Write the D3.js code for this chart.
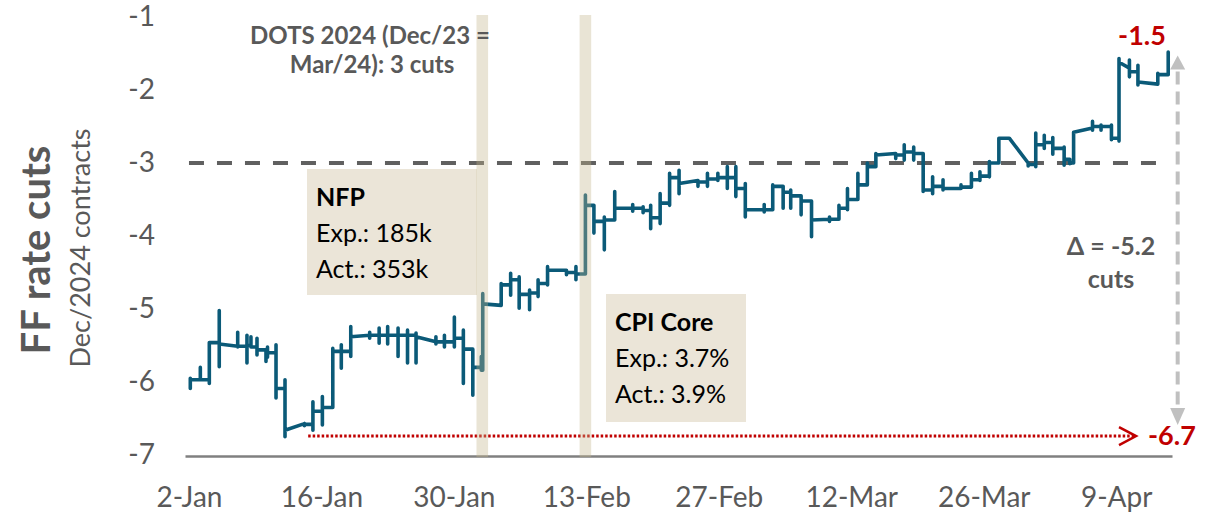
<!DOCTYPE html>
<html>
<head>
<meta charset="utf-8">
<script src="https://cdn.jsdelivr.net/npm/d3@7"></script>
<style>
  body { margin: 0; background: #fff; }
  svg { display: block; font-family: Lato, "Open Sans", sans-serif; }
</style>
</head>
<body>
<svg id="chart" width="1217" height="516"></svg>
<script>
// day offsets are counted from 2-Jan-2024
const startDate = "2024-01-02";
const xTickDates = ["2024-01-02", "2024-01-16", "2024-01-30", "2024-02-13",
                    "2024-02-27", "2024-03-12", "2024-03-26", "2024-04-09"];
const yTicks = [-1, -2, -3, -4, -5, -6, -7];

// intraday moves: [day, arrive level, low, high, close]
const moves = [
  [0.14, -5.97, -6.09, -5.95, -5.97],
  [1.2, -5.97, -5.97, -5.80, -5.97],
  [2.15, -5.97, -6.02, -5.46, -5.46],
  [3.2, -5.46, -5.79, -5.02, -5.48],
  [5.15, -5.51, -5.52, -5.32, -5.51],
  [6.13, -5.51, -5.74, -5.36, -5.50],
  [6.55, -5.50, -5.52, -5.38, -5.52],
  [7.19, -5.52, -5.63, -5.40, -5.56],
  [8.14, -5.56, -5.72, -5.56, -5.60],
  [8.3, -5.60, -5.66, -5.52, -5.60],
  [9.2, -5.60, -6.22, -5.49, -6.09],
  [10.15, -6.09, -6.75, -5.97, -6.66],
  [12.2, -6.57, -6.60, -6.57, -6.58],
  [13.1, -6.58, -6.66, -6.27, -6.40],
  [14.1, -6.40, -6.59, -6.20, -6.35],
  [15.2, -6.35, -6.35, -5.54, -5.58],
  [16.1, -5.58, -5.81, -5.49, -5.58],
  [17.1, -5.58, -5.65, -5.24, -5.38],
  [19.1, -5.36, -5.40, -5.32, -5.36],
  [20.1, -5.36, -5.47, -5.26, -5.36],
  [21.0, -5.36, -5.48, -5.24, -5.36],
  [22.1, -5.36, -5.65, -5.26, -5.36],
  [23.1, -5.36, -5.74, -5.29, -5.36],
  [24.0, -5.36, -5.74, -5.33, -5.38],
  [26.1, -5.45, -5.48, -5.38, -5.45],
  [27.0, -5.45, -5.52, -5.36, -5.45],
  [28.05, -5.45, -5.52, -5.11, -5.40],
  [29.0, -5.40, -6.02, -5.29, -5.55],
  [30.0, -5.55, -6.18, -5.61, -5.80],
  [30.9, -5.80, -5.84, -5.65, -5.84],
  [31.05, -5.84, -5.84, -4.79, -4.93],
  [33.0, -4.95, -4.95, -4.65, -4.67],
  [34.0, -4.67, -4.81, -4.51, -4.60],
  [34.9, -4.60, -4.99, -4.56, -4.80],
  [36.0, -4.80, -5.01, -4.74, -4.78],
  [36.9, -4.78, -4.83, -4.60, -4.65],
  [37.9, -4.65, -4.67, -4.42, -4.47],
  [39.9, -4.47, -4.53, -4.47, -4.50],
  [40.9, -4.50, -4.60, -4.42, -4.52],
  [41.9, -4.52, -4.52, -3.44, -3.58],
  [42.8, -3.58, -3.96, -3.58, -3.80],
  [43.9, -3.80, -4.19, -3.74, -3.78],
  [45.0, -3.78, -3.78, -3.39, -3.62],
  [46.9, -3.62, -3.66, -3.57, -3.62],
  [48.0, -3.62, -3.68, -3.60, -3.65],
  [48.8, -3.65, -3.90, -3.58, -3.75],
  [49.8, -3.75, -3.83, -3.42, -3.55],
  [50.8, -3.55, -3.58, -3.14, -3.20],
  [51.8, -3.20, -3.42, -3.10, -3.28],
  [53.8, -3.24, -3.32, -3.24, -3.26],
  [54.8, -3.26, -3.32, -3.14, -3.22],
  [55.9, -3.22, -3.24, -3.14, -3.20],
  [56.9, -3.20, -3.35, -3.05, -3.20],
  [57.8, -3.20, -3.46, -3.05, -3.35],
  [58.8, -3.35, -3.74, -3.28, -3.64],
  [60.8, -3.64, -3.67, -3.57, -3.64],
  [61.7, -3.64, -3.62, -3.30, -3.32],
  [62.8, -3.32, -3.62, -3.32, -3.40],
  [63.6, -3.40, -3.62, -3.37, -3.45],
  [64.7, -3.45, -3.71, -3.46, -3.52],
  [65.8, -3.52, -4.01, -3.64, -3.78],
  [67.7, -3.77, -3.80, -3.74, -3.77],
  [68.7, -3.77, -3.77, -3.58, -3.62],
  [69.6, -3.62, -3.64, -3.35, -3.50],
  [70.7, -3.50, -3.39, -3.14, -3.30],
  [71.7, -3.30, -3.23, -3.00, -3.05],
  [72.6, -3.05, -3.05, -2.87, -2.89],
  [74.7, -2.87, -2.94, -2.87, -2.89],
  [75.6, -2.89, -2.96, -2.75, -2.85],
  [76.6, -2.85, -2.96, -2.78, -2.87],
  [77.6, -2.87, -3.39, -2.89, -3.37],
  [78.6, -3.37, -3.42, -3.19, -3.32],
  [79.7, -3.32, -3.37, -3.23, -3.35],
  [81.6, -3.35, -3.35, -3.30, -3.33],
  [82.7, -3.33, -3.33, -3.14, -3.23],
  [83.6, -3.23, -3.24, -3.12, -3.18],
  [84.6, -3.18, -3.19, -2.98, -3.00],
  [85.6, -3.00, -3.00, -2.66, -2.66],
  [86.7, -2.66, -2.66, -2.66, -2.66],
  [88.7, -3.00, -3.04, -3.00, -3.02],
  [89.5, -3.02, -3.05, -2.59, -2.75],
  [90.4, -2.75, -2.80, -2.62, -2.72],
  [91.3, -2.72, -2.88, -2.65, -2.80],
  [92.5, -2.80, -3.03, -2.78, -2.95],
  [93.1, -2.95, -3.01, -2.95, -3.00],
  [93.5, -3.00, -3.00, -2.58, -2.58],
  [95.5, -2.52, -2.55, -2.43, -2.50],
  [96.4, -2.50, -2.55, -2.48, -2.50],
  [97.5, -2.50, -2.68, -2.48, -2.66],
  [98.3, -2.66, -2.70, -1.57, -1.62],
  [99.4, -1.70, -1.82, -1.59, -1.75],
  [100.3, -1.75, -1.93, -1.66, -1.89],
  [102.4, -1.92, -1.92, -1.77, -1.79],
  [103.5, -1.79, -1.79, -1.48, -1.48]
];

// event bands (NFP on 2-Feb, CPI on 13-Feb)
const eventDays = [31.0, 41.9];
const dotsLevel = -3;
const lowLevel = -6.7, lastLevel = -1.5;

const svg = d3.select("#chart");
const t0 = Date.parse(startDate + "T00:00:00Z");
const toDate = d => new Date(t0 + d * 864e5);

const x = d3.scaleUtc()
  .domain([toDate(-0.42), toDate(103.9)])
  .range([185, 1172]);
const y = d3.scaleLinear()
  .domain([-7, -1])
  .range([455, 17]);

const grey = "#595959";

// beige text boxes
svg.append("rect").attr("x", 307).attr("y", 169).attr("width", 170).attr("height", 126).attr("fill", "#ebe5d8");
svg.append("rect").attr("x", 606).attr("y", 294).attr("width", 140).attr("height", 128).attr("fill", "#ebe5d8");

// y axis labels
const yAxis = svg.append("g")
  .attr("transform", "translate(160,0)")
  .call(d3.axisLeft(y).tickValues(yTicks).tickSize(0).tickPadding(5).tickFormat(d => String(d)));
yAxis.select(".domain").remove();
yAxis.selectAll("text").attr("fill", grey).style("font-size", "28px").style("font-family", "Lato");

// x axis
const xAxis = svg.append("g")
  .attr("transform", `translate(0,${y(-7) + 1})`)
  .call(d3.axisBottom(x)
    .tickValues(xTickDates.map(s => new Date(s + "T00:00:00Z")))
    .tickSize(0).tickPadding(31)
    .tickFormat(d3.utcFormat("%-d-%b")));
xAxis.select(".domain").attr("stroke", "#808080").attr("stroke-width", 2.5);
xAxis.selectAll("text").attr("fill", grey).style("font-size", "28px").style("font-family", "Lato");

// DOTS reference line
svg.append("line")
  .attr("x1", x(toDate(0))).attr("x2", x(toDate(102.4)))
  .attr("y1", y(dotsLevel)).attr("y2", y(dotsLevel))
  .attr("stroke", "#606060").attr("stroke-width", 4)
  .attr("stroke-dasharray", "15,13");

// red dotted line to the low
svg.append("line")
  .attr("x1", x(toDate(12.6))).attr("x2", x(toDate(100.0)))
  .attr("y1", y(lowLevel) + 3).attr("y2", y(lowLevel) + 3)
  .attr("stroke", "#c00000").attr("stroke-width", 3)
  .attr("stroke-dasharray", "2.5,2");
svg.append("path")
  .attr("d", `M${x(toDate(98.3))},${y(lowLevel) - 6} L${x(toDate(100.1))},${y(lowLevel) + 3} L${x(toDate(98.3))},${y(lowLevel) + 12}`)
  .attr("fill", "none").attr("stroke", "#c00000").attr("stroke-width", 2.5);

// data path
const pts = [];
moves.forEach(m => {
  const dt = toDate(m[0]);
  pts.push([dt, m[1]], [dt, m[2]], [dt, m[3]], [dt, m[4]]);
});
const line = d3.line().x(p => x(p[0])).y(p => y(p[1]));
svg.append("path")
  .datum(pts)
  .attr("d", line)
  .attr("fill", "none")
  .attr("stroke", "#0b5a78")
  .attr("stroke-width", 3.6)
  .attr("stroke-linejoin", "round")
  .attr("stroke-linecap", "round");

// event bands drawn over the line
svg.selectAll(".band")
  .data(eventDays)
  .join("rect")
  .attr("class", "band")
  .attr("x", d => x(toDate(d)) - 5.8)
  .attr("width", 11.6)
  .attr("y", 15)
  .attr("height", y(-7) + 2 - 15)
  .attr("fill", "#c2b48a")
  .attr("opacity", 0.36);

// grey double arrow from low to last
const ax = x(toDate(104.5));
svg.append("line")
  .attr("x1", ax).attr("x2", ax)
  .attr("y1", y(lastLevel) + 18).attr("y2", y(lowLevel) - 14)
  .attr("stroke", "#c0c0c0").attr("stroke-width", 4)
  .attr("stroke-dasharray", "13,7");
svg.append("path")
  .attr("d", `M${ax},${y(lastLevel) + 2} L${ax - 7.5},${y(lastLevel) + 16} L${ax + 7.5},${y(lastLevel) + 16} Z`)
  .attr("fill", "#c0c0c0");
svg.append("path")
  .attr("d", `M${ax},${y(lowLevel) - 8} L${ax - 7.5},${y(lowLevel) - 25} L${ax + 7.5},${y(lowLevel) - 25} Z`)
  .attr("fill", "#c0c0c0");

// annotations
function txt(str, px, py, opts) {
  return svg.append("text").attr("x", px).attr("y", py).text(str)
    .style("font-size", (opts.size || 24) + "px")
    .style("font-weight", opts.bold ? "bold" : "normal")
    .attr("fill", opts.fill || "#000")
    .attr("text-anchor", opts.anchor || "start");
}
txt("DOTS 2024 (Dec/23 =", 370, 44, {size: 24, bold: true, fill: grey, anchor: "middle"});
txt("Mar/24): 3 cuts", 372, 73, {size: 24, bold: true, fill: grey, anchor: "middle"});

txt("NFP", 316, 206, {size: 25, bold: true});
txt("Exp.: 185k", 316, 242, {size: 25});
txt("Act.: 353k", 316, 278, {size: 25});

txt("CPI Core", 615, 331, {size: 25, bold: true});
txt("Exp.: 3.7%", 615, 367, {size: 25});
txt("Act.: 3.9%", 615, 403, {size: 25});

txt("\u0394 = -5.2", 1111, 255, {size: 25, bold: true, fill: grey, anchor: "middle"});
txt("cuts", 1111, 288, {size: 25, bold: true, fill: grey, anchor: "middle"});

txt("-1.5", 1142, 45, {size: 27, bold: true, fill: "#c00000", anchor: "middle"});
txt("-6.7", 1148, 445, {size: 27, bold: true, fill: "#c00000"});

// y titles
svg.append("text")
  .attr("transform", "translate(50,250) rotate(-90)")
  .attr("text-anchor", "middle")
  .attr("fill", grey)
  .style("font-size", "40px").style("font-weight", "bold")
  .text("FF rate cuts");
svg.append("text")
  .attr("transform", "translate(90,248) rotate(-90)")
  .attr("text-anchor", "middle")
  .attr("fill", grey)
  .style("font-size", "27px")
  .text("Dec/2024 contracts");
</script>
</body>
</html>
